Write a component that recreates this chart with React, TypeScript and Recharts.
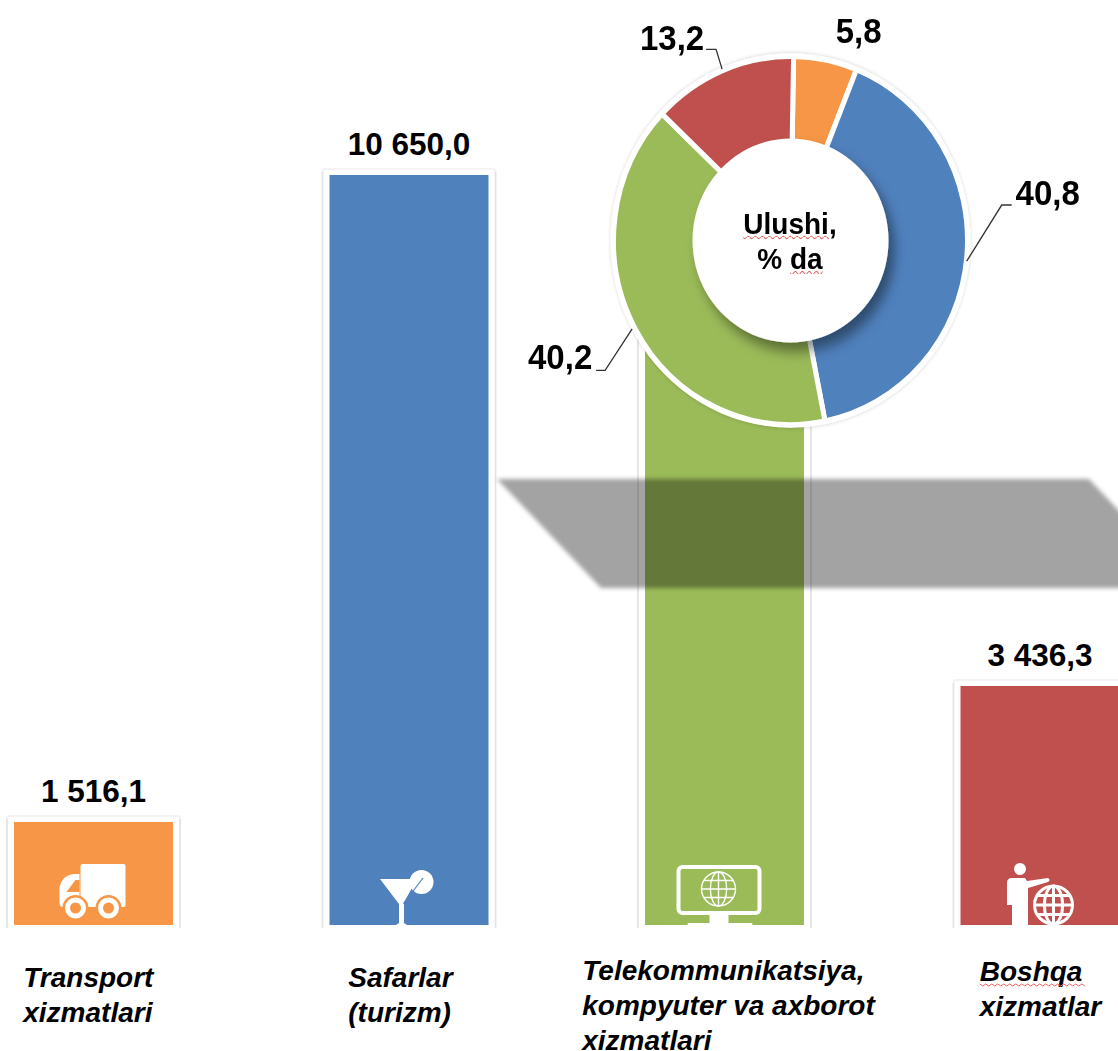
import { Bar, BarChart, LabelList, Pie, PieChart, Cell, XAxis, YAxis } from "recharts";

const categories = ["Transport xizmatlari", "Safarlar (turizm)", "Telekommunikatsiya, kompyuter va axborot xizmatlari", "Boshqa xizmatlar"];
const volumes = [1516.1, 10650.0, 10500.0, 3436.3];
const barColors = ["#f79646", "#4f81bd", "#9bbb59", "#c0504d"];

const shareNames = ["Transport", "Safarlar", "Telekommunikatsiya", "Boshqa"];
const shares = [5.8, 40.8, 40.2, 13.2];
const shareColors = ["#f79646", "#4f81bd", "#9bbb59", "#c0504d"];

const tickLines = [
  ["Transport", "xizmatlari"],
  ["Safarlar", "(turizm)"],
  ["Telekommunikatsiya,", "kompyuter va axborot", "xizmatlari"],
  ["Boshqa", "xizmatlar"],
];

const barData = categories.map((category, i) => ({ category, value: volumes[i] }));
const shareData = shareNames.map((name, i) => ({ name, value: shares[i] }));
const wholeCircle = [{ name: "circle", value: 1 }];

const font = "'Liberation Sans', Arial, sans-serif";
const squiggle = "underline wavy #e8666a 1px";

const tickShift = [
  { dx: -70.5, dy: 60, gap: 35 },
  { dx: -61, dy: 60, gap: 35 },
  { dx: -142.5, dy: 53, gap: 35 },
  { dx: -60.5, dy: 54, gap: 35 },
];

// leader line and text position of each slice label, relative to the ring point
const labelShift = [
  { text: [32, -23] },
  { line: [[-5, 3], [30, -51], [40, -51]], text: [76, -62] },
  { line: [[1, -3], [-26, 37], [-35, 37]], text: [-71, 24] },
  { line: [[2, 3], [-4, -16], [-14, -16]], text: [-48, -27] },
];

function formatValue(value: number) {
  const [whole, part] = value.toFixed(1).split(".");
  return whole.replace(/\B(?=(\d{3})+$)/g, " ") + "," + part;
}

function Globe({ x, y, r, width }: { x: number; y: number; r: number; width: number }) {
  const line = { fill: "none", stroke: "#fff", strokeWidth: width };
  return (
    <g transform={`translate(${x} ${y})`}>
      <circle r={r} {...line} />
      <ellipse rx={r * 0.48} ry={r} {...line} />
      <path d={`M0 ${-r}V${r}M${-r} 0H${r}M${-r * 0.85} ${-r * 0.5}H${r * 0.85}M${-r * 0.85} ${r * 0.5}H${r * 0.85}`} {...line} />
    </g>
  );
}

function BarIcon({ index, color }: { index: number; color: string }) {
  if (index === 0) {
    return (
      <g>
        <rect x={-13} y={-61} width={45} height={43} rx={2} fill="#fff" />
        <path d="M-14 -51H-20Q-31 -50 -34 -38V-22Q-34 -18 -30 -18H-14Z" fill="#fff" />
        <path d="M-27 -33L-18 -45H-14V-33Z" fill={color} />
        <circle cx={-18} cy={-17} r={13} fill={color} />
        <circle cx={15} cy={-17} r={13} fill={color} />
        <circle cx={-18} cy={-17} r={8} fill={color} stroke="#fff" strokeWidth={5} />
        <circle cx={15} cy={-17} r={8} fill={color} stroke="#fff" strokeWidth={5} />
      </g>
    );
  }
  if (index === 1) {
    return (
      <g>
        <circle cx={12.5} cy={-43} r={12} fill="#fff" />
        <path d="M-29 -46H8L-6 -21H-5V-2L-2 0H-13L-10 -2V-21Z" fill="#fff" />
        <path d="M14 -47L-5 -22" stroke={color} strokeWidth={1.2} fill="none" />
      </g>
    );
  }
  if (index === 2) {
    return (
      <g>
        <rect x={-46} y={-58} width={81} height={46} rx={4} fill="none" stroke="#fff" strokeWidth={4} />
        <rect x={-15} y={-12} width={19} height={12} fill="#fff" />
        <rect x={-37} y={-2} width={65} height={2} rx={1} fill="#fff" />
        <Globe x={-6} y={-36} r={17} width={1.4} />
      </g>
    );
  }
  return (
    <g>
      <circle cx={-20} cy={-56} r={6} fill="#fff" />
      <path d="M-33 -42Q-33 -47 -28 -47H-15L-13 -44L8 -47Q11 -45 8 -43L-12 -37V0H-28V-20H-33Z" fill="#fff" />
      <Globe x={13.5} y={-20} r={19} width={3} />
    </g>
  );
}

function BarWithFrame(props: any) {
  const { x, y, width, height, index, fill } = props;
  const bottom = y + height;
  const left = x - 7;
  const right = x + width + 7;
  const top = y - 6;
  return (
    <g>
      <path d={`M${left} ${bottom + 3}V${top + 3}M${right} ${top + 3}V${bottom + 3}`} fill="none" stroke="#e4e4e4" strokeWidth={1.8} />
      <path d={`M${left} ${top + 3}Q${left} ${top} ${left + 3} ${top}H${right - 3}Q${right} ${top} ${right} ${top + 3}`} fill="none" stroke="#f3f3f3" strokeWidth={1.8} />
      <rect x={x} y={y} width={width} height={height} fill={fill} />
      <g transform={`translate(${x + width / 2} ${bottom})`}>
        <BarIcon index={index} color={fill} />
      </g>
    </g>
  );
}

function Squiggle({ x, y, width }: { x: number; y: number; width: number }) {
  const steps = Math.round(width / 3);
  const points = Array.from({ length: steps + 1 }, (_, i) => `${x + i * 3},${y + (i % 2 === 0 ? 0 : 2)}`);
  return <polyline points={points.join(" ")} fill="none" stroke="#e8666a" strokeWidth={1} />;
}

function CategoryTick(props: any) {
  const { x, y, index } = props;
  const shift = tickShift[index];
  return (
    <g>
      <text x={x + shift.dx} y={y + shift.dy} fontFamily={font} fontSize={28} fontWeight="bold" fontStyle="italic" fill="#000">
        {tickLines[index].map((line, i) => (
          <tspan key={line} x={x + shift.dx} dy={i === 0 ? 0 : shift.gap}>
            {line}
          </tspan>
        ))}
      </text>
      {index === 3 && <Squiggle x={x + shift.dx} y={y + shift.dy + 3} width={104} />}
    </g>
  );
}

function ShareLabel(props: any) {
  const { cx, cy, midAngle, index, value } = props;
  const angle = (-midAngle * Math.PI) / 180;
  const px = cx + 182 * Math.cos(angle);
  const py = cy + 182 * Math.sin(angle);
  const shift = labelShift[index];
  return (
    <g>
      {shift.line && (
        <polyline
          points={shift.line.map(([dx, dy]) => `${px + dx},${py + dy}`).join(" ")}
          fill="none"
          stroke="#333"
          strokeWidth={1.3}
        />
      )}
      <text
        x={px + shift.text[0]}
        y={py + shift.text[1]}
        textAnchor="middle"
        dominantBaseline="central"
        fontFamily={font}
        fontSize={33}
        fontWeight="bold"
        fill="#000"
      >
        {String(value).replace(".", ",")}
      </text>
    </g>
  );
}

export default function App() {
  return (
    <div style={{ position: "absolute", left: 0, top: 0, width: 1118, height: 1051, overflow: "hidden", background: "#fff" }}>
      <div style={{ position: "absolute", left: -100, top: 0 }}>
        <BarChart width={1302} height={1051} data={barData} margin={{ top: 0, right: 4, bottom: 0, left: 36 }}>
          <XAxis
            dataKey="category"
            height={126}
            axisLine={false}
            tickLine={false}
            tickSize={0}
            interval={0}
            tick={<CategoryTick />}
          />
          <YAxis hide domain={[62, 13120]} />
          <Bar
            dataKey="value"
            barSize={159}
            isAnimationActive={false}
            shape={(props: any) => <BarWithFrame {...props} fill={barColors[props.index]} />}
          >
            <LabelList
              dataKey="value"
              position="top"
              offset={20}
              formatter={(v: any) => formatValue(Number(v))}
              style={{ fontFamily: font, fontSize: 31.5, fontWeight: "bold", fill: "#000" }}
            />
          </Bar>
        </BarChart>
      </div>

      {/* drop shadow left over from the pasted picture */}
      <svg width={1118} height={1051} style={{ position: "absolute", left: 0, top: 0, pointerEvents: "none" }}>
        <defs>
          <filter id="soft" x="-5%" y="-10%" width="110%" height="120%">
            <feGaussianBlur stdDeviation="2" />
          </filter>
        </defs>
        <polygon points="497,479 1089,479 1192,588 601,588" fill="#000" fillOpacity={0.36} filter="url(#soft)" />
      </svg>

      <div
        style={{
          position: "absolute",
          left: 0,
          top: 0,
          width: 1118,
          height: 481,
          transform: "scaleY(1.04)",
          transformOrigin: "790.5px 240.5px",
        }}
      >
        <PieChart width={1118} height={481} margin={{ top: 0, right: 0, bottom: 0, left: 0 }}>
          <defs>
            <filter id="ringGlow" x="-10%" y="-10%" width="120%" height="120%">
              <feDropShadow dx="0" dy="0" stdDeviation="1.8" floodColor="#000" floodOpacity="0.2" />
            </filter>
            <filter id="holeShadow" x="-30%" y="-30%" width="160%" height="160%">
              <feDropShadow dx="6" dy="9" stdDeviation="6" floodColor="#000" floodOpacity="0.42" />
            </filter>
          </defs>
          <Pie
            data={wholeCircle}
            dataKey="value"
            cx={790.5}
            cy={240.5}
            innerRadius={0}
            outerRadius={180}
            stroke="none"
            fill="#fff"
            filter="url(#ringGlow)"
            isAnimationActive={false}
          />
          <Pie
            data={shareData}
            dataKey="value"
            nameKey="name"
            cx={790.5}
            cy={240.5}
            innerRadius={92}
            outerRadius={177}
            startAngle={89}
            endAngle={-271}
            stroke="#fff"
            strokeWidth={5}
            label={(props: any) => <ShareLabel {...props} />}
            labelLine={false}
            isAnimationActive={false}
          >
            {shareData.map((entry, i) => (
              <Cell key={entry.name} fill={shareColors[i]} />
            ))}
          </Pie>
          <Pie
            data={wholeCircle}
            dataKey="value"
            cx={790.5}
            cy={240.5}
            innerRadius={0}
            outerRadius={98}
            stroke="none"
            fill="#fff"
            filter="url(#holeShadow)"
            isAnimationActive={false}
          />
        </PieChart>
        <div
          style={{
            position: "absolute",
            left: 690,
            top: 208,
            width: 200,
            textAlign: "center",
            fontFamily: font,
            fontSize: 28,
            fontWeight: "bold",
            lineHeight: "34px",
            color: "#000",
          }}
        >
          <span style={{ textDecoration: squiggle }}>Ulushi</span>,
          <br />
          % <span style={{ textDecoration: squiggle }}>da</span>
        </div>
      </div>
    </div>
  );
}
